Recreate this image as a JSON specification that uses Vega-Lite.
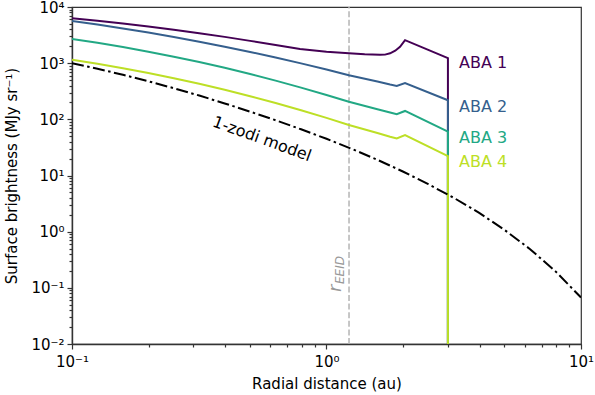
{
  "$schema": "https://vega.github.io/schema/vega-lite/v6.json",
  "width": 509,
  "height": 337,
  "autosize": {"type": "none"},
  "padding": {"left": 72, "top": 7, "right": 14, "bottom": 51},
  "config": {
    "font": "DejaVu Sans",
    "view": {"stroke": "#333333", "strokeWidth": 1.2},
    "axis": {
      "grid": false,
      "labelFont": "DejaVu Sans",
      "titleFont": "DejaVu Sans",
      "labelFontSize": 15,
      "titleFontSize": 15,
      "labelColor": "#000000",
      "titleColor": "#000000",
      "titleFontWeight": "normal",
      "domainColor": "#333333",
      "domainWidth": 1.4,
      "tickColor": "#333333",
      "tickWidth": 1.2,
      "labelOverlap": false,
      "labelFlush": false,
      "labelBound": false
    }
  },
  "encoding": {
    "x": {
      "field": "x",
      "type": "quantitative",
      "scale": {"type": "log", "domain": [0.1, 10], "nice": false},
      "axis": {
        "title": "Radial distance (au)",
        "values": [0.1, 0.2, 0.3, 0.4, 0.5, 0.6, 0.7, 0.8, 0.9, 1, 2, 3, 4, 5, 6, 7, 8, 9, 10],
        "labelExpr": "abs(log(datum.value)/LN10 - round(log(datum.value)/LN10)) < 0.001 ? ['10⁻¹','10⁰','10¹'][round(log(datum.value)/LN10)+1] : ''",
        "tickSize": {"condition": {"test": "abs(log(datum.value)/LN10 - round(log(datum.value)/LN10)) < 0.001", "value": 5}, "value": 3},
        "labelPadding": 5,
        "titleY": 44,
        "titleBaseline": "alphabetic"
      }
    },
    "y": {
      "field": "y",
      "type": "quantitative",
      "scale": {"type": "log", "domain": [0.01, 10000], "nice": false},
      "axis": {
        "title": "Surface brightness (MJy sr⁻¹)",
        "values": [0.01, 0.02, 0.03, 0.04, 0.05, 0.06, 0.07, 0.08, 0.09, 0.1, 0.2, 0.3, 0.4, 0.5, 0.6, 0.7, 0.8, 0.9, 1, 2, 3, 4, 5, 6, 7, 8, 9, 10, 20, 30, 40, 50, 60, 70, 80, 90, 100, 200, 300, 400, 500, 600, 700, 800, 900, 1000, 2000, 3000, 4000, 5000, 6000, 7000, 8000, 9000, 10000],
        "labelExpr": "abs(log(datum.value)/LN10 - round(log(datum.value)/LN10)) < 0.001 ? ['10⁻²','10⁻¹','10⁰','10¹','10²','10³','10⁴'][round(log(datum.value)/LN10)+2] : ''",
        "tickSize": {"condition": {"test": "abs(log(datum.value)/LN10 - round(log(datum.value)/LN10)) < 0.001", "value": 5}, "value": 3},
        "labelPadding": 3,
        "titleAngle": 270,
        "titleX": -56,
        "titleBaseline": "alphabetic"
      }
    }
  },
  "layer": [
    {
      "data": {"values": [{"x": 1.226, "y": 0.01, "y2": 10000}]},
      "mark": {"type": "rule", "color": "#b5b5b5", "strokeWidth": 1.5, "strokeDash": [6, 2.6]},
      "encoding": {"y2": {"field": "y2"}}
    },
    {
      "data": {"values": [
        {"s": "ABA 1", "i": 0, "x": 0.1, "y": 6310},
        {"s": "ABA 1", "i": 1, "x": 0.1259, "y": 5689},
        {"s": "ABA 1", "i": 2, "x": 0.1585, "y": 5093},
        {"s": "ABA 1", "i": 3, "x": 0.1995, "y": 4498},
        {"s": "ABA 1", "i": 4, "x": 0.2512, "y": 3945},
        {"s": "ABA 1", "i": 5, "x": 0.3162, "y": 3420},
        {"s": "ABA 1", "i": 6, "x": 0.3981, "y": 2938},
        {"s": "ABA 1", "i": 7, "x": 0.5012, "y": 2495},
        {"s": "ABA 1", "i": 8, "x": 0.631, "y": 2104},
        {"s": "ABA 1", "i": 9, "x": 0.787, "y": 1786},
        {"s": "ABA 1", "i": 10, "x": 1.0, "y": 1596},
        {"s": "ABA 1", "i": 11, "x": 1.2246, "y": 1500},
        {"s": "ABA 1", "i": 12, "x": 1.4125, "y": 1439},
        {"s": "ABA 1", "i": 13, "x": 1.622, "y": 1406},
        {"s": "ABA 1", "i": 14, "x": 1.698, "y": 1419},
        {"s": "ABA 1", "i": 15, "x": 1.778, "y": 1496},
        {"s": "ABA 1", "i": 16, "x": 1.862, "y": 1667},
        {"s": "ABA 1", "i": 17, "x": 1.945, "y": 1950},
        {"s": "ABA 1", "i": 18, "x": 2.035, "y": 2570},
        {"s": "ABA 1", "i": 19, "x": 3.0, "y": 1230},
        {"s": "ABA 1", "i": 20, "x": 3.0, "y": 0.001},
        {"s": "ABA 2", "i": 0, "x": 0.1, "y": 5623},
        {"s": "ABA 2", "i": 1, "x": 0.1259, "y": 4864},
        {"s": "ABA 2", "i": 2, "x": 0.1585, "y": 4150},
        {"s": "ABA 2", "i": 3, "x": 0.1995, "y": 3508},
        {"s": "ABA 2", "i": 4, "x": 0.2512, "y": 2924},
        {"s": "ABA 2", "i": 5, "x": 0.3162, "y": 2410},
        {"s": "ABA 2", "i": 6, "x": 0.3981, "y": 1963},
        {"s": "ABA 2", "i": 7, "x": 0.5012, "y": 1581},
        {"s": "ABA 2", "i": 8, "x": 0.631, "y": 1259},
        {"s": "ABA 2", "i": 9, "x": 0.7943, "y": 991},
        {"s": "ABA 2", "i": 10, "x": 1.0, "y": 769},
        {"s": "ABA 2", "i": 11, "x": 1.2246, "y": 611},
        {"s": "ABA 2", "i": 12, "x": 1.585, "y": 473},
        {"s": "ABA 2", "i": 13, "x": 1.778, "y": 417},
        {"s": "ABA 2", "i": 14, "x": 1.888, "y": 393},
        {"s": "ABA 2", "i": 15, "x": 2.035, "y": 444},
        {"s": "ABA 2", "i": 16, "x": 3.0, "y": 219},
        {"s": "ABA 2", "i": 17, "x": 3.0, "y": 0.001},
        {"s": "ABA 3", "i": 0, "x": 0.1, "y": 2692},
        {"s": "ABA 3", "i": 1, "x": 0.1259, "y": 2301},
        {"s": "ABA 3", "i": 2, "x": 0.1585, "y": 1936},
        {"s": "ABA 3", "i": 3, "x": 0.1995, "y": 1603},
        {"s": "ABA 3", "i": 4, "x": 0.2512, "y": 1306},
        {"s": "ABA 3", "i": 5, "x": 0.3162, "y": 1047},
        {"s": "ABA 3", "i": 6, "x": 0.3981, "y": 826},
        {"s": "ABA 3", "i": 7, "x": 0.5012, "y": 641},
        {"s": "ABA 3", "i": 8, "x": 0.631, "y": 489},
        {"s": "ABA 3", "i": 9, "x": 0.7943, "y": 367},
        {"s": "ABA 3", "i": 10, "x": 1.0, "y": 272},
        {"s": "ABA 3", "i": 11, "x": 1.2246, "y": 205},
        {"s": "ABA 3", "i": 12, "x": 1.585, "y": 151},
        {"s": "ABA 3", "i": 13, "x": 1.778, "y": 132},
        {"s": "ABA 3", "i": 14, "x": 1.888, "y": 123},
        {"s": "ABA 3", "i": 15, "x": 2.035, "y": 141},
        {"s": "ABA 3", "i": 16, "x": 3.0, "y": 60.3},
        {"s": "ABA 3", "i": 17, "x": 3.0, "y": 0.001},
        {"s": "ABA 4", "i": 0, "x": 0.1, "y": 1148},
        {"s": "ABA 4", "i": 1, "x": 0.1259, "y": 975},
        {"s": "ABA 4", "i": 2, "x": 0.1585, "y": 815},
        {"s": "ABA 4", "i": 3, "x": 0.1995, "y": 668},
        {"s": "ABA 4", "i": 4, "x": 0.2512, "y": 541},
        {"s": "ABA 4", "i": 5, "x": 0.3162, "y": 430},
        {"s": "ABA 4", "i": 6, "x": 0.3981, "y": 336},
        {"s": "ABA 4", "i": 7, "x": 0.5012, "y": 258},
        {"s": "ABA 4", "i": 8, "x": 0.631, "y": 195},
        {"s": "ABA 4", "i": 9, "x": 0.7943, "y": 145},
        {"s": "ABA 4", "i": 10, "x": 1.0, "y": 106},
        {"s": "ABA 4", "i": 11, "x": 1.2246, "y": 79.3},
        {"s": "ABA 4", "i": 12, "x": 1.585, "y": 57.1},
        {"s": "ABA 4", "i": 13, "x": 1.778, "y": 49.0},
        {"s": "ABA 4", "i": 14, "x": 1.888, "y": 45.7},
        {"s": "ABA 4", "i": 15, "x": 2.035, "y": 52.5},
        {"s": "ABA 4", "i": 16, "x": 3.0, "y": 22.2},
        {"s": "ABA 4", "i": 17, "x": 3.0, "y": 0.001}
      ]},
      "mark": {"type": "line", "strokeWidth": 2, "clip": true},
      "encoding": {
        "color": {"field": "s", "type": "nominal", "scale": {"domain": ["ABA 1", "ABA 2", "ABA 3", "ABA 4"], "range": ["#440154", "#355f8d", "#22a884", "#bddf26"]}, "legend": null},
        "order": {"field": "i", "type": "quantitative"}
      }
    },
    {
      "data": {"values": [
        {"x": 0.1, "y": 1000},
        {"x": 0.1259, "y": 796},
        {"x": 0.1585, "y": 621},
        {"x": 0.1995, "y": 476},
        {"x": 0.2512, "y": 358},
        {"x": 0.3162, "y": 265},
        {"x": 0.3981, "y": 192},
        {"x": 0.5012, "y": 137},
        {"x": 0.631, "y": 96.4},
        {"x": 0.7943, "y": 66.5},
        {"x": 1.0, "y": 45.0},
        {"x": 1.2589, "y": 29.7},
        {"x": 1.5849, "y": 19.05},
        {"x": 1.9953, "y": 11.78},
        {"x": 2.5119, "y": 7.0},
        {"x": 3.1623, "y": 4.01},
        {"x": 3.9811, "y": 2.16},
        {"x": 5.0119, "y": 1.07},
        {"x": 6.3096, "y": 0.488},
        {"x": 7.9433, "y": 0.196},
        {"x": 10, "y": 0.0673}
      ]},
      "mark": {"type": "line", "color": "#000000", "strokeWidth": 2, "strokeDash": [12, 3.5, 2.5, 3.5], "clip": true},
      "encoding": {}
    },
    {
      "data": {"values": [
        {"x": 3.317, "y": 820, "s": "ABA 1"},
        {"x": 3.317, "y": 135, "s": "ABA 2"},
        {"x": 3.317, "y": 37.9, "s": "ABA 3"},
        {"x": 3.317, "y": 14.2, "s": "ABA 4"}
      ]},
      "mark": {"type": "text", "align": "left", "baseline": "alphabetic", "fontSize": 16},
      "encoding": {
        "text": {"field": "s"},
        "color": {"field": "s", "type": "nominal", "legend": null}
      }
    },
    {
      "data": {"values": [{"x": 0.558, "y": 44.7, "t": "1-zodi model"}]},
      "mark": {"type": "text", "align": "center", "baseline": "middle", "fontSize": 16, "angle": 20, "color": "#000000"},
      "encoding": {"text": {"field": "t"}}
    },
    {
      "data": {"values": [{"x": 1.14, "y": 0.0843, "t": "r"}]},
      "mark": {"type": "text", "align": "left", "baseline": "alphabetic", "fontSize": 18, "fontStyle": "italic", "angle": 270, "color": "#999999"},
      "encoding": {"text": {"field": "t"}}
    },
    {
      "data": {"values": [{"x": 1.172, "y": 0.117, "t": "EEID"}]},
      "mark": {"type": "text", "align": "left", "baseline": "alphabetic", "fontSize": 12, "fontStyle": "italic", "angle": 270, "color": "#999999"},
      "encoding": {"text": {"field": "t"}}
    }
  ]
}
